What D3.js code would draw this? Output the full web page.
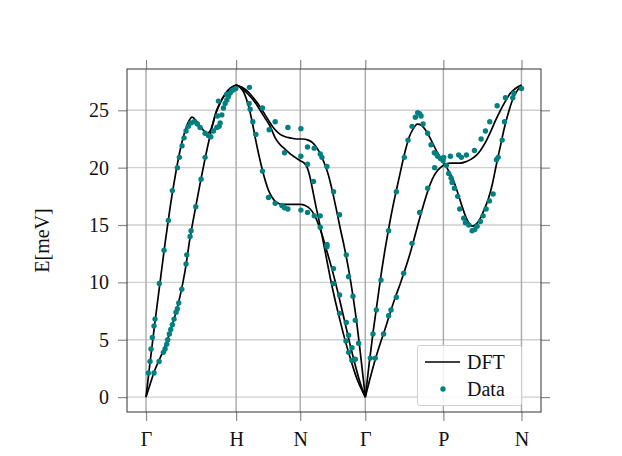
<!DOCTYPE html>
<html><head><meta charset="utf-8">
<script src="https://cdn.jsdelivr.net/npm/d3@7"></script>
<style>
body{margin:0;background:#fff}
svg{display:block}
text{font-family:"Liberation Serif","DejaVu Serif",serif;fill:#111}
</style>
</head><body>
<svg id="chart" width="622" height="456"></svg>
<script>
// High-symmetry path positions (path coordinate) and labels
const tickPositions = [0, 0.90, 1.54, 2.19, 2.97, 3.75];
const tickLabels = ["Γ", "H", "N", "Γ", "P", "N"];
const yTicks = [0, 5, 10, 15, 20, 25];
const yLabel = "E[meV]";

// DFT dispersion branches: [path coordinate, energy meV]
const dftGH1 = [[0,0],[0.04,3.0],[0.09,6.6],[0.14,10.0],[0.19,13.4],[0.24,16.5],[0.29,19.2],[0.34,21.5],[0.39,23.2],[0.43,24.1],[0.46,24.4],[0.50,24.1],[0.54,23.6],[0.58,23.2],[0.61,23.0],[0.64,23.2],[0.67,23.9],[0.70,24.8],[0.74,25.6],[0.79,26.4],[0.84,26.9],[0.90,27.2]];
const dftGH2 = [[0,0],[0.04,1.1],[0.09,2.4],[0.14,3.4],[0.19,4.4],[0.24,5.7],[0.29,7.1],[0.34,8.8],[0.39,11.0],[0.44,13.9],[0.49,16.3],[0.54,18.6],[0.59,20.8],[0.64,22.8],[0.69,24.6],[0.74,25.7],[0.79,26.4],[0.84,26.9],[0.90,27.2]];
const dftHNG1 = [[0.90,27.2],[0.94,27.0],[0.98,26.5],[1.02,25.5],[1.06,24.0],[1.10,22.2],[1.14,20.6],[1.18,19.2],[1.22,18.1],[1.26,17.4],[1.30,17.0],[1.36,16.8],[1.44,16.8],[1.54,16.8],[1.59,16.7],[1.64,16.4],[1.68,15.9],[1.72,15.1],[1.76,14.1],[1.80,12.9],[1.84,11.7],[1.88,10.4],[1.92,9.0],[1.96,7.5],[2.00,6.0],[2.04,4.5],[2.08,3.1],[2.12,1.8],[2.16,0.7],[2.19,0]];
const dftHNG2 = [[0.90,27.2],[0.96,26.9],[1.02,26.4],[1.08,25.8],[1.14,25.0],[1.19,24.3],[1.24,23.6],[1.29,22.6],[1.34,22.0],[1.39,21.6],[1.44,21.2],[1.49,20.9],[1.54,20.6],[1.58,20.4],[1.61,20.0],[1.64,19.1],[1.67,17.8],[1.70,16.5],[1.73,15.3],[1.76,14.0],[1.80,12.2],[1.84,10.4],[1.89,8.4],[1.94,6.6],[1.99,4.9],[2.04,3.4],[2.09,2.0],[2.14,0.9],[2.19,0]];
const dftHNG3 = [[0.90,27.2],[0.96,27.0],[1.02,26.6],[1.08,26.0],[1.14,25.3],[1.19,24.6],[1.24,23.9],[1.29,23.3],[1.34,22.9],[1.39,22.7],[1.44,22.6],[1.50,22.5],[1.56,22.5],[1.62,22.4],[1.66,22.2],[1.70,21.8],[1.74,21.2],[1.78,20.4],[1.82,19.4],[1.86,18.0],[1.90,16.4],[1.94,14.7],[1.98,13.1],[2.02,11.3],[2.06,9.2],[2.10,6.8],[2.14,3.9],[2.17,1.6],[2.19,0]];
const dftGPN1 = [[2.19,0],[2.23,3.0],[2.27,5.8],[2.31,8.3],[2.35,10.8],[2.39,13.0],[2.43,15.0],[2.47,16.8],[2.51,18.4],[2.55,20.0],[2.59,21.5],[2.63,22.7],[2.67,23.4],[2.71,23.8],[2.75,23.7],[2.79,23.3],[2.83,22.7],[2.87,22.0],[2.91,21.3],[2.95,20.7],[2.99,20.2],[3.03,19.6],[3.07,18.9],[3.11,17.9],[3.15,16.8],[3.19,15.8],[3.23,15.1],[3.26,14.9],[3.30,15.1],[3.34,15.6],[3.38,16.4],[3.42,17.3],[3.46,18.6],[3.50,20.3],[3.54,21.9],[3.58,23.5],[3.62,24.8],[3.66,25.9],[3.70,26.6],[3.74,27.1],[3.75,27.2]];
const dftGPN2 = [[2.19,0],[2.24,1.7],[2.29,3.3],[2.34,4.7],[2.39,6.0],[2.44,7.4],[2.49,8.7],[2.54,9.9],[2.59,11.2],[2.64,12.6],[2.69,14.2],[2.74,15.8],[2.79,17.3],[2.84,18.6],[2.89,19.5],[2.94,20.0],[2.99,20.3],[3.04,20.4],[3.09,20.4],[3.14,20.4],[3.19,20.5],[3.24,20.7],[3.29,21.0],[3.34,21.5],[3.39,22.2],[3.44,23.1],[3.49,24.1],[3.54,25.0],[3.59,25.8],[3.64,26.5],[3.69,26.9],[3.75,27.2]];

// Measured points: [path coordinate, energy meV]
const dataGH = [[0.18,12.8],[0.133,9.9],[0.09,6.8],[0.08,6.2],[0.063,5.2],[0.05,4.2],[0.04,3.1],[0.023,2.1],[0.08,2.1],[0.13,3.1],[0.173,3.9],[0.19,4.2],[0.207,4.6],[0.217,5.0],[0.233,5.5],[0.247,5.9],[0.263,6.3],[0.28,6.8],[0.30,7.4],[0.313,7.7],[0.327,8.2],[0.357,9.4],[0.40,11.6],[0.407,12.4],[0.44,14.0],[0.45,14.5],[0.223,15.4],[0.263,18.0],[0.313,20.0],[0.333,20.9],[0.36,21.9],[0.38,22.6],[0.40,23.2],[0.423,23.6],[0.447,23.9],[0.48,24.0],[0.513,23.8],[0.54,23.5],[0.59,23.0],[0.623,22.8],[0.647,22.7],[0.673,23.2],[0.707,23.5],[0.73,23.6],[0.74,23.9],[0.713,24.5],[0.723,25.8],[0.757,24.6],[0.773,25.2],[0.79,25.6],[0.807,25.9],[0.823,26.2],[0.84,26.5],[0.857,26.7],[0.873,26.8],[0.897,26.9],[0.807,26.4],[0.59,20.9],[0.55,19.0],[0.497,16.6]];
const dataHN = [[1.033,27.0],[1.03,25.6],[1.04,25.1],[1.163,25.2],[1.067,24.0],[1.097,22.9],[1.29,24.0],[1.23,23.3],[1.417,23.5],[1.547,23.4],[1.383,21.3],[1.547,21.0],[1.613,21.8],[1.68,21.7],[1.74,21.2],[1.757,20.9],[1.807,20.1],[1.613,20.3],[1.163,19.7],[1.673,18.8],[1.873,17.9],[1.933,15.9],[1.223,17.4],[1.29,16.9],[1.357,16.7],[1.383,16.5],[1.417,16.4],[1.547,16.3],[1.613,16.1],[1.68,15.8],[1.74,15.8],[1.74,14.8]];
const dataNG = [[1.807,13.3],[1.807,13.1],[2.00,12.4],[1.873,11.2],[2.023,10.5],[1.873,9.9],[1.933,8.9],[2.067,8.8],[1.933,7.3],[2.09,6.7],[2.00,6.5],[2.023,5.4],[1.997,4.9],[2.123,4.7],[2.057,4.3],[2.023,3.9],[2.057,3.2],[2.09,3.3]];
const dataGPN = [[2.24,3.4],[2.29,3.4],[2.267,5.5],[2.373,5.5],[2.30,7.6],[2.423,7.1],[2.447,7.6],[2.50,8.7],[2.347,10.2],[2.573,10.8],[2.657,13.4],[2.423,14.5],[2.50,17.9],[2.58,20.9],[2.617,22.4],[2.657,23.6],[2.69,24.4],[2.713,24.8],[2.733,24.7],[2.747,24.5],[2.767,23.8],[2.813,23.0],[2.847,22.0],[2.88,21.3],[2.90,21.2],[2.913,21.0],[2.94,20.8],[2.967,20.6],[3.00,20.2],[3.023,19.5],[3.047,19.1],[3.057,18.7],[3.08,18.2],[3.113,17.5],[3.133,16.4],[3.173,15.6],[3.19,15.2],[3.223,15.0],[3.257,14.5],[3.283,14.6],[3.307,14.9],[3.34,15.3],[3.367,15.8],[3.397,16.4],[3.43,17.1],[3.467,17.7],[3.50,20.7],[3.517,20.9],[3.557,22.4],[3.58,24.0],[3.663,26.1],[3.75,26.9],[2.883,20.0],[2.813,18.2],[2.733,16.1],[3.04,21.0],[3.123,21.1],[3.15,20.9],[3.20,21.1],[3.28,21.5],[3.347,22.5],[3.39,23.2],[3.433,24.0],[3.507,25.4],[3.59,26.1],[3.673,26.5],[2.973,20.9]];

const dftBranches = [dftGH1, dftGH2, dftHNG1, dftHNG2, dftHNG3, dftGPN1, dftGPN2];
const dataSets = [dataGH, dataHN, dataNG, dataGPN];

const svg = d3.select("#chart");
const L = 127, R = 541, T = 69, B = 412;
const x = d3.scaleLinear().domain([-0.19, 3.945]).range([L, R]);
const y = d3.scaleLinear().domain([-1.3, 28.6]).range([B, T]);

// horizontal grid
svg.append("g").selectAll("line").data(yTicks).join("line")
  .attr("x1", L).attr("x2", R)
  .attr("y1", d => y(d)).attr("y2", d => y(d))
  .attr("stroke", "#cfcfcf").attr("stroke-width", 1.4);
// vertical lines at high-symmetry points
svg.append("g").selectAll("line").data(tickPositions).join("line")
  .attr("x1", d => x(d)).attr("x2", d => x(d))
  .attr("y1", T).attr("y2", B)
  .attr("stroke", "#a8a8a8").attr("stroke-width", 1.4);

// Axes (ticks outward on all sides)
const tickCol = "#8a8a8a";
const axL = svg.append("g").attr("transform", `translate(${L},0)`)
  .call(d3.axisLeft(y).tickValues(yTicks).tickSize(9).tickPadding(9).tickFormat(d3.format("d")));
const axR = svg.append("g").attr("transform", `translate(${R},0)`)
  .call(d3.axisRight(y).tickValues(yTicks).tickSize(9).tickFormat(""));
const axB = svg.append("g").attr("transform", `translate(0,${B})`)
  .call(d3.axisBottom(x).tickValues(tickPositions).tickSize(9).tickPadding(11).tickFormat((d,i) => tickLabels[i]));
const axT = svg.append("g").attr("transform", `translate(0,${T})`)
  .call(d3.axisTop(x).tickValues(tickPositions).tickSize(9).tickFormat(""));
[axL, axR, axB, axT].forEach(a => {
  a.select(".domain").remove();
  a.selectAll(".tick line").attr("stroke", tickCol).attr("stroke-width", 1.2);
  a.selectAll("text").attr("font-family", '"Liberation Serif","DejaVu Serif",serif')
    .attr("font-size", 20).attr("fill", "#111");
});

// DFT lines
const line = d3.line().x(d => x(d[0])).y(d => y(d[1])).curve(d3.curveMonotoneX);
svg.append("g").selectAll("path").data(dftBranches).join("path")
  .attr("d", line).attr("fill", "none").attr("stroke", "#000").attr("stroke-width", 1.7);

// data points
svg.append("g").selectAll("circle").data(dataSets.flat()).join("circle")
  .attr("cx", d => x(d[0])).attr("cy", d => y(d[1])).attr("r", 2.7)
  .attr("fill", "#008080");

// frame
svg.append("rect").attr("x", L).attr("y", T).attr("width", R - L).attr("height", B - T)
  .attr("fill", "none").attr("stroke", "#333").attr("stroke-width", 1);

// y label
svg.append("text").attr("transform", `translate(49,${(T + B) / 2}) rotate(-90)`)
  .attr("text-anchor", "middle").attr("font-size", 20).text(yLabel);

// legend
const lg = svg.append("g");
lg.append("rect").attr("x", 417.5).attr("y", 345.5).attr("width", 104).attr("height", 60)
  .attr("rx", 2).attr("fill", "#fff").attr("fill-opacity", 0.85).attr("stroke", "#d0d0d0");
lg.append("line").attr("x1", 425).attr("x2", 460).attr("y1", 362).attr("y2", 362)
  .attr("stroke", "#000").attr("stroke-width", 1.7);
lg.append("circle").attr("cx", 443).attr("cy", 389).attr("r", 2.7).attr("fill", "#008080");
lg.append("text").attr("x", 467).attr("y", 369).attr("font-size", 20).text("DFT");
lg.append("text").attr("x", 467).attr("y", 396).attr("font-size", 20).text("Data");
</script>
</body></html>
